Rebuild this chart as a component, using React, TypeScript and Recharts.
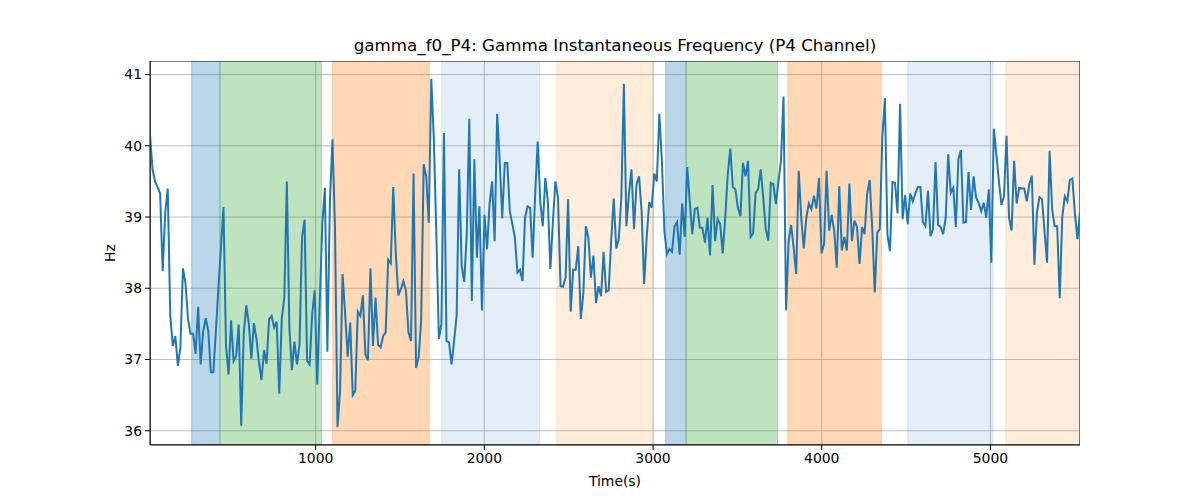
import React from "react";
import {
  LineChart,
  Line,
  XAxis,
  YAxis,
  CartesianGrid,
  ReferenceArea,
  Label,
} from "recharts";

// gamma instantaneous frequency, one value every ~15 s
const hz = [
  40.15, 39.67, 39.5, 39.42, 39.33, 38.24, 39.06, 39.4, 37.61, 37.19,
  37.33, 36.91, 37.17, 38.28, 38.07, 37.57, 37.36, 37.36, 37.08, 37.74,
  36.93, 37.4, 37.58, 37.4, 36.82, 36.82, 37.4, 38.01, 38.57, 39.14,
  37.19, 36.79, 37.55, 36.98, 37.05, 37.49, 36.07, 37.36, 37.76, 37.5,
  37.01, 37.51, 37.29, 36.96, 36.71, 37.13, 36.94, 37.57, 37.61, 37.45,
  37.53, 36.52, 37.57, 37.87, 39.5, 37.45, 36.85, 37.25, 36.93, 37.21,
  38.71, 38.96, 36.98, 36.93, 37.64, 37.97, 36.65, 37.82, 38.9, 39.41,
  37.11, 39.22, 40.09, 38.85, 36.05, 36.56, 38.2, 37.64, 37.04, 37.52,
  36.5, 36.56, 37.67, 37.61, 37.9, 37.07, 36.99, 38.28, 37.19, 37.87,
  37.21, 37.17, 37.33, 37.38, 38.4, 38.35, 39.42, 38.48, 37.9, 37.99,
  38.1, 37.97, 37.38, 37.26, 39.61, 36.88, 37.03, 37.54, 39.74, 39.57,
  38.92, 40.94, 40.11, 38.76, 37.29, 37.5, 40.18, 37.26, 37.24, 36.93,
  37.26, 37.61, 39.67, 38.31, 38.09, 38.76, 40.38, 37.82, 39.81, 38.43,
  39.15, 37.69, 39.03, 38.55, 39.18, 39.5, 38.66, 40.45, 39.79, 38.98,
  39.76, 39.76, 39.08, 38.9, 38.71, 38.22, 38.26, 38.1, 38.99, 39.15,
  39.13, 38.43, 39.32, 40.06, 39.22, 38.87, 39.55, 39.22, 38.27, 38.94,
  39.5, 39.27, 38.03, 38.02, 38.15, 39.25, 37.67, 38.26, 38.26, 38.59,
  37.57, 37.92, 38.87, 38.71, 38.15, 38.46, 37.79, 38.03, 37.89, 38.51,
  37.95, 37.97, 38.67, 39.26, 38.56, 38.69, 39.27, 40.87, 38.87, 39.32,
  39.67, 38.83, 39.46, 39.57, 39.08, 38.06, 38.71, 39.21, 39.13, 39.61,
  39.5, 40.45, 39.79, 38.8, 38.48, 38.55, 38.51, 38.87, 38.93, 38.47,
  39.19, 38.72, 39.7, 39.22, 38.76, 39.11, 39.13, 38.85, 38.85, 38.64,
  38.99, 38.46, 39.45, 38.66, 38.97, 38.9, 38.49, 38.99, 39.6, 39.96,
  39.42, 39.39, 39.13, 39.01, 39.76, 39.57, 39.79, 38.72, 38.77, 39.34,
  39.39, 39.67, 39.27, 38.83, 38.67, 39.48, 39.46, 39.18, 39.5, 39.79,
  40.69, 37.69, 38.66, 38.89, 38.57, 38.2, 39.65, 38.99, 38.56, 38.99,
  39.19, 39.11, 39.3, 39.12, 39.55, 38.49, 38.62, 39.65, 38.81, 39.03,
  38.81, 38.29, 39.43, 38.53, 38.72, 38.53, 39.47, 38.66, 38.95, 38.86,
  38.34, 38.86, 38.76, 39.32, 39.52, 38.85, 37.94, 38.78, 38.83, 40.12,
  40.67, 38.76, 38.52, 39.49, 39.48, 39.05, 40.59, 38.97, 39.31, 38.9,
  39.33, 39.22, 39.33, 39.42, 39.42, 38.93, 38.87, 39.37, 38.73, 38.83,
  39.77, 38.89, 38.86, 38.76, 38.99, 39.88, 39.34, 39.41, 38.86, 39.81,
  39.94, 38.92, 38.93, 39.63, 39.1, 39.57, 39.27, 39.2, 39.08, 39.2,
  38.99, 39.39, 38.36, 40.24, 39.88, 39.5, 39.17, 39.29, 40.14, 38.99,
  38.81, 39.79, 39.19, 39.41, 39.4, 39.4, 39.22, 39.46, 39.58, 38.33,
  39.06, 39.28, 39.25, 38.8, 38.36, 39.93, 39.11, 38.87, 38.87, 37.86,
  39.0, 39.29, 39.22, 39.52, 39.54, 39.04, 38.69, 39.07,
];

// shaded segments
const spanStart = [265, 433, 1101, 1747, 2429, 3075, 3196, 3799, 4510, 5091];
const spanEnd = [433, 1034, 1674, 2328, 3002, 3196, 3738, 4354, 5016, 5531];
const spanColor = [
  "#1f77b4", "#2ca02c", "#ff7f0e", "#1f77b4", "#ff7f0e",
  "#1f77b4", "#2ca02c", "#ff7f0e", "#1f77b4", "#ff7f0e",
];
const spanAlpha = [0.3, 0.3, 0.3, 0.12, 0.15, 0.3, 0.3, 0.3, 0.12, 0.15];

const xTicks = [1000, 2000, 3000, 4000, 5000];
const yTicks = [36, 37, 38, 39, 40, 41];

const X_MIN = 18;
const X_MAX = 5531;
const STEP = (X_MAX - X_MIN) / (hz.length - 1);

const data = hz.map((v, i) => ({ t: X_MIN + i * STEP, hz: v }));

const font = "DejaVu Sans, sans-serif";

export default function App() {
  return (
    <div style={{ position: "absolute", left: 0, top: 0, width: 1200, height: 500, background: "#fff", fontFamily: font }}>
      <div
        style={{
          position: "absolute",
          left: 0,
          width: 1230,
          top: 35,
          textAlign: "center",
          fontSize: 16.7,
          lineHeight: "20px",
          color: "#000",
        }}
      >
        gamma_f0_P4: Gamma Instantaneous Frequency (P4 Channel)
      </div>
      <LineChart
        width={1200}
        height={500}
        data={data}
        margin={{ top: 61, right: 120, bottom: 0, left: 90 }}
      >
        <CartesianGrid stroke="#b0b0b0" strokeWidth={0.8} horizontalValues={yTicks} verticalValues={xTicks} />
        {spanStart.map((s, i) => (
          <ReferenceArea
            key={i}
            x1={s}
            x2={spanEnd[i]}
            fill={spanColor[i]}
            fillOpacity={spanAlpha[i]}
            stroke={spanColor[i]}
            strokeOpacity={spanAlpha[i]}
            ifOverflow="hidden"
          />
        ))}
        <XAxis
          dataKey="t"
          type="number"
          domain={[X_MIN, X_MAX]}
          allowDataOverflow
          ticks={xTicks}
          height={55}
          tickSize={5}
          tickMargin={3}
          stroke="#000"
          tick={{ fill: "#000", fontSize: 13.9, fontFamily: font }}
        >
          <Label
            content={() => (
              <text x={615} y={486} textAnchor="middle" fontSize={13.9} fontFamily={font} fill="#000">
                Time(s)
              </text>
            )}
          />
        </XAxis>
        <YAxis
          type="number"
          domain={[35.8, 41.19]}
          allowDataOverflow
          ticks={yTicks}
          width={60}
          tickSize={5}
          tickMargin={3}
          stroke="#000"
          tick={{ fill: "#000", fontSize: 13.9, fontFamily: font }}
        >
          <Label
            content={() => (
              <text
                x={115}
                y={253}
                textAnchor="middle"
                transform="rotate(-90 115 253)"
                fontSize={13.9}
                fontFamily={font}
                fill="#000"
              >
                Hz
              </text>
            )}
          />
        </YAxis>
        <Line
          type="linear"
          dataKey="hz"
          stroke="#1f77b4"
          strokeWidth={2}
          dot={false}
          isAnimationActive={false}
        />
        <ReferenceArea
          x1={X_MIN}
          x2={X_MAX}
          y1={35.8}
          y2={41.19}
          fill="none"
          stroke="#000"
          strokeWidth={1}
          ifOverflow="hidden"
        />
      </LineChart>
    </div>
  );
}
